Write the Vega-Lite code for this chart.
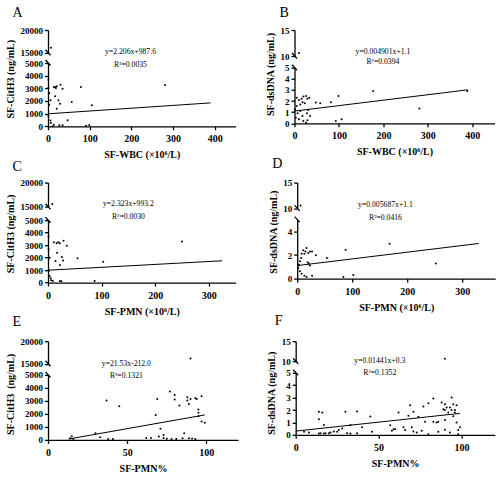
{
  "$schema": "https://vega.github.io/schema/vega-lite/v6.json",
  "padding": {"left": 5, "top": 6, "right": 5, "bottom": 5},
  "background": "white",
  "config": {
    "view": {"stroke": null},
    "axis": {
      "grid": false, "domainColor": "black", "domainWidth": 1.3, "tickColor": "black", "tickWidth": 1.3, "tickSize": 3.5,
      "labelFont": "Liberation Serif", "labelFontWeight": "bold", "labelFontSize": 9, "labelColor": "black", "labelPadding": 2,
      "labelFlush": false, "labelOverlap": false,
      "titleFont": "Liberation Serif", "titleFontWeight": "bold", "titleFontSize": 10, "titleColor": "black", "titlePadding": 9
    },
    "axisX": {"labelFontSize": 10, "labelPadding": 4, "titlePadding": 6},
    "title": {"font": "Liberation Serif", "fontSize": 14, "fontWeight": "normal", "color": "black", "anchor": "start"}
  },
  "datasets": {
    "a": [
      {"x":7,"y":16100},{"x":1,"y":3680},{"x":1,"y":3030},{"x":14,"y":3080},{"x":17,"y":3100},{"x":21,"y":3160},{"x":19,"y":3030},
      {"x":30,"y":3290},{"x":35,"y":2970},{"x":79,"y":3100},{"x":281,"y":3260},{"x":3,"y":2630},{"x":17,"y":2370},{"x":25,"y":2050},
      {"x":29,"y":1790},{"x":57,"y":1920},{"x":105,"y":1660},{"x":21,"y":1390},{"x":3,"y":1710},{"x":6,"y":2050},{"x":7,"y":260},
      {"x":6,"y":450},{"x":14,"y":130},{"x":27,"y":80},{"x":35,"y":80},{"x":47,"y":470},{"x":91,"y":50},{"x":99,"y":100},{"x":1,"y":790},{"x":11,"y":0}
    ],
    "b": [
      {"x":10,"y":10.6},{"x":5,"y":2.3},{"x":10,"y":2.1},{"x":16,"y":2.2},{"x":20,"y":2.4},{"x":26,"y":2.46},{"x":29,"y":2.2},{"x":33,"y":2.3},
      {"x":18,"y":1.9},{"x":13,"y":1.7},{"x":23,"y":1.8},{"x":5,"y":1.56},{"x":48,"y":1.86},{"x":58,"y":1.8},{"x":82,"y":1.9},{"x":99,"y":2.46},
      {"x":177,"y":2.9},{"x":281,"y":1.32},{"x":389,"y":2.9},{"x":7,"y":0.9},{"x":18,"y":0.66},{"x":13,"y":1.1},{"x":31,"y":1.2},{"x":28,"y":0.9},
      {"x":3,"y":0.5},{"x":10,"y":0.36},{"x":20,"y":0.2},{"x":29,"y":0.27},{"x":93,"y":0.2},{"x":106,"y":0.36},{"x":35,"y":0.66},{"x":1,"y":1.26},{"x":26,"y":0.06}
    ],
    "c": [
      {"x":8,"y":15600},{"x":1,"y":3700},{"x":1,"y":2670},{"x":3,"y":2000},{"x":11,"y":3230},{"x":16,"y":3160},{"x":19,"y":3230},{"x":22,"y":3160},
      {"x":29,"y":3360},{"x":35,"y":2960},{"x":17,"y":2400},{"x":26,"y":2050},{"x":28,"y":1780},{"x":14,"y":1730},{"x":22,"y":1410},{"x":55,"y":1950},
      {"x":103,"y":1680},{"x":250,"y":3300},{"x":3,"y":530},{"x":5,"y":350},{"x":6,"y":190},{"x":9,"y":130},{"x":22,"y":130},{"x":25,"y":100},
      {"x":87,"y":130},{"x":2,"y":940}
    ],
    "d": [
      {"x":6,"y":10.55},{"x":17,"y":2.6},{"x":15,"y":2.3},{"x":11,"y":2.4},{"x":8,"y":2.1},{"x":13,"y":2.1},{"x":20,"y":2.17},{"x":23,"y":2.3},
      {"x":27,"y":2.3},{"x":34,"y":1.97},{"x":7,"y":1.75},{"x":5,"y":1.46},{"x":19,"y":1.38},{"x":23,"y":1.1},{"x":21,"y":1.27},{"x":54,"y":1.75},
      {"x":88,"y":2.45},{"x":168,"y":2.96},{"x":252,"y":1.27},{"x":2,"y":0.9},{"x":5,"y":0.62},{"x":8,"y":0.42},{"x":13,"y":0.25},{"x":27,"y":0.25},
      {"x":17,"y":0.14},{"x":84,"y":0.14},{"x":102,"y":0.3},{"x":3,"y":1.18}
    ],
    "e": [
      {"x":90,"y":16200},{"x":37,"y":3030},{"x":45,"y":2590},{"x":69,"y":3150},{"x":68,"y":1920},{"x":77,"y":3720},{"x":80,"y":3460},{"x":80,"y":3100},
      {"x":83,"y":2640},{"x":88,"y":3280},{"x":88,"y":3030},{"x":89,"y":2770},{"x":90,"y":3150},{"x":93,"y":3210},{"x":94,"y":3150},{"x":97,"y":3360},
      {"x":95,"y":2330},{"x":95,"y":2080},{"x":95,"y":1820},{"x":97,"y":1410},{"x":99,"y":1310},{"x":71,"y":850},{"x":73,"y":380},{"x":70,"y":260},
      {"x":73,"y":150},{"x":75,"y":80},{"x":78,"y":60},{"x":81,"y":60},{"x":85,"y":130},{"x":86,"y":510},{"x":89,"y":130},{"x":91,"y":100},
      {"x":93,"y":60},{"x":30,"y":510},{"x":33,"y":200},{"x":62,"y":150},{"x":65,"y":150},{"x":38,"y":60},{"x":41,"y":60},{"x":15,"y":280},
      {"x":14,"y":130},{"x":16,"y":60}
    ],
    "f": [
      {"x":90,"y":10.64},{"x":5,"y":0.24},{"x":8,"y":0.19},{"x":14,"y":1.85},{"x":16,"y":1.8},{"x":14,"y":1.26},{"x":17,"y":0.8},{"x":14,"y":0.1},
      {"x":15,"y":0.12},{"x":17,"y":0.1},{"x":18,"y":0.12},{"x":20,"y":0.12},{"x":21,"y":0.19},{"x":23,"y":0.27},{"x":25,"y":0.24},{"x":26,"y":0.38},
      {"x":28,"y":0.5},{"x":30,"y":1.85},{"x":31,"y":0.12},{"x":33,"y":0.1},{"x":33,"y":0.8},{"x":37,"y":1.88},{"x":37,"y":0.12},{"x":40,"y":0.6},
      {"x":45,"y":1.47},{"x":46,"y":0.24},{"x":57,"y":0.78},{"x":58,"y":0.32},{"x":59,"y":0.45},{"x":60,"y":0.45},{"x":62,"y":1.8},{"x":65,"y":0.6},
      {"x":66,"y":0.38},{"x":68,"y":1.53},{"x":69,"y":2.39},{"x":70,"y":0.6},{"x":71,"y":0.27},{"x":71,"y":1.85},{"x":73,"y":0.19},{"x":74,"y":1.45},
      {"x":76,"y":0.32},{"x":77,"y":2.28},{"x":78,"y":1.05},{"x":80,"y":2.55},{"x":80,"y":0.05},{"x":83,"y":2.92},{"x":83,"y":1.05},{"x":85,"y":1.0},
      {"x":86,"y":1.05},{"x":86,"y":0.24},{"x":88,"y":2.6},{"x":89,"y":2.06},{"x":90,"y":2.47},{"x":90,"y":2.0},{"x":90,"y":1.2},{"x":90,"y":0.4},
      {"x":91,"y":2.2},{"x":92,"y":1.8},{"x":93,"y":0.19},{"x":94,"y":3.0},{"x":94,"y":2.0},{"x":95,"y":1.5},{"x":95,"y":2.47},{"x":96,"y":2.0},
      {"x":97,"y":2.39},{"x":97,"y":1.0},{"x":98,"y":0.38},{"x":98,"y":0.05},{"x":99,"y":0.6},{"x":93,"y":2.2},{"x":96,"y":1.8}
    ],
    "fit_a": [{"x":0,"y":987.6},{"x":390,"y":1847.9}],
    "fit_b": [{"x":0,"y":1.1},{"x":390,"y":3.011}],
    "fit_c": [{"x":0,"y":993.2},{"x":325,"y":1748.2}],
    "fit_d": [{"x":0,"y":1.1},{"x":330,"y":2.977}],
    "fit_e": [{"x":13,"y":67.9},{"x":99,"y":1919.5}],
    "fit_f": [{"x":0,"y":0.3},{"x":99,"y":1.727}]
  },
  "spacing": -3.4,
  "vconcat": [
    {
      "spacing": 28.5,
      "hconcat": [
        {
          "title": {"text": "A", "dx": 7, "offset": 6},
          "bounds": "flush", "spacing": 10,
          "vconcat": [
            {"width": 187.5, "height": 22.7, "layer": [
              {"data": {"name": "a"}, "transform": [{"filter": "datum.y >= 10000"}], "mark": {"type": "circle", "size": 4, "color": "black", "opacity": 1},
               "encoding": {"x": {"field": "x", "type": "quantitative", "scale": {"domain": [0, 450], "nice": false}, "axis": null},
                            "y": {"field": "y", "type": "quantitative", "scale": {"domain": [15000, 20000], "nice": false, "zero": false}, "axis": {"values": [15000, 20000], "tickCount": 20, "format": "d", "title": null, "labelOverlap": false}}}},
              {"data": {"values": [{}]}, "mark": {"type": "point", "shape": "M-0.5,-0.6L0.5,0.5", "size": 100, "filled": false, "color": "black", "strokeWidth": 1.3, "opacity": 1},
               "encoding": {"x": {"datum": 0}, "y": {"datum": 15000}}}
            ]},
            {"width": 187.5, "height": 63.3, "layer": [
              {"data": {"name": "a"}, "transform": [{"filter": "datum.y <= 5000"}], "mark": {"type": "circle", "size": 4, "color": "black", "opacity": 1},
               "encoding": {"x": {"field": "x", "type": "quantitative", "scale": {"domain": [0, 450], "nice": false}, "axis": {"values": [0, 100, 200, 300, 400], "tickCount": 20, "title": "SF-WBC (×10⁶/L)"}},
                            "y": {"field": "y", "type": "quantitative", "scale": {"domain": [0, 5000], "nice": false}, "axis": {"values": [0, 1000, 2000, 3000, 4000, 5000], "tickCount": 20, "format": "d", "title": "SF-CitH3 (ng/mL)", "titleY": 15.8, "labelOverlap": false}}}},
              {"data": {"name": "fit_a"}, "mark": {"type": "line", "color": "black", "strokeWidth": 1},
               "encoding": {"x": {"field": "x", "type": "quantitative"}, "y": {"field": "y", "type": "quantitative"}}},
              {"data": {"values": [{}]}, "mark": {"type": "point", "shape": "M-0.5,-0.6L0.5,0.5", "size": 100, "filled": false, "color": "black", "strokeWidth": 1.3, "opacity": 1},
               "encoding": {"x": {"datum": 0}, "y": {"datum": 5000}}},
              {"data": {"values": [{}]}, "mark": {"type": "text", "text": "y=2.206x+987.6", "font": "Liberation Serif", "fontSize": 7.7, "color": "black", "baseline": "middle"},
               "encoding": {"x": {"datum": 198}, "y": {"datum": 5845}}},
              {"data": {"values": [{}]}, "mark": {"type": "text", "text": "R²=0.0035", "font": "Liberation Serif", "fontSize": 7.7, "color": "black", "baseline": "middle"},
               "encoding": {"x": {"datum": 198}, "y": {"datum": 4874}}}
            ]}
          ]
        },
        {
          "title": {"text": "B", "dx": 14, "offset": 6},
          "bounds": "flush", "spacing": 11.7,
          "vconcat": [
            {"width": 200, "height": 26, "layer": [
              {"data": {"name": "b"}, "transform": [{"filter": "datum.y >= 8"}], "mark": {"type": "circle", "size": 4, "color": "black", "opacity": 1},
               "encoding": {"x": {"field": "x", "type": "quantitative", "scale": {"domain": [0, 450], "nice": false}, "axis": null},
                            "y": {"field": "y", "type": "quantitative", "scale": {"domain": [10, 15], "nice": false, "zero": false}, "axis": {"values": [10, 15], "tickCount": 20, "format": "d", "title": null, "labelOverlap": false}}}},
              {"data": {"values": [{}]}, "mark": {"type": "point", "shape": "M-0.5,-0.6L0.5,0.5", "size": 100, "filled": false, "color": "black", "strokeWidth": 1.3, "opacity": 1},
               "encoding": {"x": {"datum": 0}, "y": {"datum": 10}}}
            ]},
            {"width": 200, "height": 55.6, "layer": [
              {"data": {"name": "b"}, "transform": [{"filter": "datum.y <= 5"}], "mark": {"type": "circle", "size": 4, "color": "black", "opacity": 1},
               "encoding": {"x": {"field": "x", "type": "quantitative", "scale": {"domain": [0, 450], "nice": false}, "axis": {"values": [0, 100, 200, 300, 400], "tickCount": 20, "title": "SF-WBC (×10⁶/L)"}},
                            "y": {"field": "y", "type": "quantitative", "scale": {"domain": [0, 5], "nice": false}, "axis": {"values": [0, 1, 2, 3, 4, 5], "tickCount": 20, "format": "d", "title": "SF-dsDNA (ng/mL)", "titleY": 6.3, "labelOverlap": false}}}},
              {"data": {"name": "fit_b"}, "mark": {"type": "line", "color": "black", "strokeWidth": 1},
               "encoding": {"x": {"field": "x", "type": "quantitative"}, "y": {"field": "y", "type": "quantitative"}}},
              {"data": {"values": [{}]}, "mark": {"type": "point", "shape": "M-0.5,-0.6L0.5,0.5", "size": 100, "filled": false, "color": "black", "strokeWidth": 1.3, "opacity": 1},
               "encoding": {"x": {"datum": 0}, "y": {"datum": 5}}},
              {"data": {"values": [{}]}, "mark": {"type": "text", "text": "y=0.004901x+1.1", "font": "Liberation Serif", "fontSize": 7.7, "color": "black", "baseline": "middle"},
               "encoding": {"x": {"datum": 199}, "y": {"datum": 6.44}}},
              {"data": {"values": [{}]}, "mark": {"type": "text", "text": "R²=0.0394", "font": "Liberation Serif", "fontSize": 7.7, "color": "black", "baseline": "middle"},
               "encoding": {"x": {"datum": 199}, "y": {"datum": 5.51}}}
            ]}
          ]
        }
      ]
    },
    {
      "spacing": 31.2,
      "hconcat": [
        {
          "title": {"text": "C", "dx": 7, "offset": 4.9},
          "bounds": "flush", "spacing": 12.6,
          "vconcat": [
            {"width": 187.6, "height": 24.2, "layer": [
              {"data": {"name": "c"}, "transform": [{"filter": "datum.y >= 10000"}], "mark": {"type": "circle", "size": 4, "color": "black", "opacity": 1},
               "encoding": {"x": {"field": "x", "type": "quantitative", "scale": {"domain": [0, 350], "nice": false}, "axis": null},
                            "y": {"field": "y", "type": "quantitative", "scale": {"domain": [15000, 20000], "nice": false, "zero": false}, "axis": {"values": [15000, 20000], "tickCount": 20, "format": "d", "title": null, "labelOverlap": false}}}},
              {"data": {"values": [{}]}, "mark": {"type": "point", "shape": "M-0.5,-0.6L0.5,0.5", "size": 100, "filled": false, "color": "black", "strokeWidth": 1.3, "opacity": 1},
               "encoding": {"x": {"datum": 0}, "y": {"datum": 15000}}}
            ]},
            {"width": 187.6, "height": 62.4, "layer": [
              {"data": {"name": "c"}, "transform": [{"filter": "datum.y <= 5000"}], "mark": {"type": "circle", "size": 4, "color": "black", "opacity": 1},
               "encoding": {"x": {"field": "x", "type": "quantitative", "scale": {"domain": [0, 350], "nice": false}, "axis": {"values": [0, 100, 200, 300], "tickCount": 20, "title": "SF-PMN (×10⁶/L)"}},
                            "y": {"field": "y", "type": "quantitative", "scale": {"domain": [0, 5000], "nice": false}, "axis": {"values": [0, 1000, 2000, 3000, 4000, 5000], "tickCount": 20, "format": "d", "title": "SF-CitH3 (ng/mL)", "titleY": 13.2, "labelOverlap": false}}}},
              {"data": {"name": "fit_c"}, "mark": {"type": "line", "color": "black", "strokeWidth": 1},
               "encoding": {"x": {"field": "x", "type": "quantitative"}, "y": {"field": "y", "type": "quantitative"}}},
              {"data": {"values": [{}]}, "mark": {"type": "point", "shape": "M-0.5,-0.6L0.5,0.5", "size": 100, "filled": false, "color": "black", "strokeWidth": 1.3, "opacity": 1},
               "encoding": {"x": {"datum": 0}, "y": {"datum": 5000}}},
              {"data": {"values": [{}]}, "mark": {"type": "text", "text": "y=2.323x+993.2", "font": "Liberation Serif", "fontSize": 7.7, "color": "black", "baseline": "middle"},
               "encoding": {"x": {"datum": 150}, "y": {"datum": 6266}}},
              {"data": {"values": [{}]}, "mark": {"type": "text", "text": "R²=0.0030", "font": "Liberation Serif", "fontSize": 7.7, "color": "black", "baseline": "middle"},
               "encoding": {"x": {"datum": 150}, "y": {"datum": 5224}}}
            ]}
          ]
        },
        {
          "title": {"text": "D", "dx": 4, "offset": 7.9},
          "bounds": "flush", "spacing": 11,
          "vconcat": [
            {"width": 198, "height": 25.8, "layer": [
              {"data": {"name": "d"}, "transform": [{"filter": "datum.y >= 8"}], "mark": {"type": "circle", "size": 4, "color": "black", "opacity": 1},
               "encoding": {"x": {"field": "x", "type": "quantitative", "scale": {"domain": [0, 360], "nice": false}, "axis": null},
                            "y": {"field": "y", "type": "quantitative", "scale": {"domain": [10, 15], "nice": false, "zero": false}, "axis": {"values": [10, 15], "tickCount": 20, "format": "d", "title": null, "labelOverlap": false}}}},
              {"data": {"values": [{}]}, "mark": {"type": "point", "shape": "M-0.5,-0.6L0.5,0.5", "size": 100, "filled": false, "color": "black", "strokeWidth": 1.3, "opacity": 1},
               "encoding": {"x": {"datum": 0}, "y": {"datum": 10}}}
            ]},
            {"width": 198, "height": 59, "layer": [
              {"data": {"name": "d"}, "transform": [{"filter": "datum.y <= 5"}], "mark": {"type": "circle", "size": 4, "color": "black", "opacity": 1},
               "encoding": {"x": {"field": "x", "type": "quantitative", "scale": {"domain": [0, 360], "nice": false}, "axis": {"values": [0, 100, 200, 300], "tickCount": 20, "title": "SF-PMN (×10⁶/L)"}},
                            "y": {"field": "y", "type": "quantitative", "scale": {"domain": [0, 5], "nice": false}, "axis": {"values": [0, 2, 4], "tickCount": 20, "format": "d", "title": "SF-dsDNA (ng/mL)", "titleY": 12, "labelOverlap": false}}}},
              {"data": {"name": "fit_d"}, "mark": {"type": "line", "color": "black", "strokeWidth": 1},
               "encoding": {"x": {"field": "x", "type": "quantitative"}, "y": {"field": "y", "type": "quantitative"}}},
              {"data": {"values": [{}]}, "mark": {"type": "point", "shape": "M-0.5,-0.6L0.5,0.5", "size": 100, "filled": false, "color": "black", "strokeWidth": 1.3, "opacity": 1},
               "encoding": {"x": {"datum": 0}, "y": {"datum": 5}}},
              {"data": {"values": [{}]}, "mark": {"type": "text", "text": "y=0.005687x+1.1", "font": "Liberation Serif", "fontSize": 7.7, "color": "black", "baseline": "middle"},
               "encoding": {"x": {"datum": 160.5}, "y": {"datum": 6.21}}},
              {"data": {"values": [{}]}, "mark": {"type": "text", "text": "R²=0.0416", "font": "Liberation Serif", "fontSize": 7.7, "color": "black", "baseline": "middle"},
               "encoding": {"x": {"datum": 160.5}, "y": {"datum": 5.17}}}
            ]}
          ]
        }
      ]
    },
    {
      "spacing": 28.7,
      "hconcat": [
        {
          "title": {"text": "E", "dx": 7, "offset": 8.4},
          "bounds": "flush", "spacing": 10.7,
          "vconcat": [
            {"width": 190, "height": 22.6, "layer": [
              {"data": {"name": "e"}, "transform": [{"filter": "datum.y >= 10000"}], "mark": {"type": "circle", "size": 4, "color": "black", "opacity": 1},
               "encoding": {"x": {"field": "x", "type": "quantitative", "scale": {"domain": [0, 120], "nice": false}, "axis": null},
                            "y": {"field": "y", "type": "quantitative", "scale": {"domain": [15000, 20000], "nice": false, "zero": false}, "axis": {"values": [15000, 20000], "tickCount": 20, "format": "d", "title": null, "labelOverlap": false}}}},
              {"data": {"values": [{}]}, "mark": {"type": "point", "shape": "M-0.5,-0.6L0.5,0.5", "size": 100, "filled": false, "color": "black", "strokeWidth": 1.3, "opacity": 1},
               "encoding": {"x": {"datum": 0}, "y": {"datum": 15000}}}
            ]},
            {"width": 190, "height": 65, "layer": [
              {"data": {"name": "e"}, "transform": [{"filter": "datum.y <= 5000"}], "mark": {"type": "circle", "size": 4, "color": "black", "opacity": 1},
               "encoding": {"x": {"field": "x", "type": "quantitative", "scale": {"domain": [0, 120], "nice": false}, "axis": {"values": [0, 50, 100], "tickCount": 20, "title": "SF-PMN%"}},
                            "y": {"field": "y", "type": "quantitative", "scale": {"domain": [0, 5000], "nice": false}, "axis": {"values": [0, 1000, 2000, 3000, 4000, 5000], "tickCount": 20, "format": "d", "title": "SF-CitH3\u00a0 (ng/mL)", "titleY": 19, "labelOverlap": false}}}},
              {"data": {"name": "fit_e"}, "mark": {"type": "line", "color": "black", "strokeWidth": 1},
               "encoding": {"x": {"field": "x", "type": "quantitative"}, "y": {"field": "y", "type": "quantitative"}}},
              {"data": {"values": [{}]}, "mark": {"type": "point", "shape": "M-0.5,-0.6L0.5,0.5", "size": 100, "filled": false, "color": "black", "strokeWidth": 1.3, "opacity": 1},
               "encoding": {"x": {"datum": 0}, "y": {"datum": 5000}}},
              {"data": {"values": [{}]}, "mark": {"type": "text", "text": "y=21.53x-212.0", "font": "Liberation Serif", "fontSize": 7.7, "color": "black", "baseline": "middle"},
               "encoding": {"x": {"datum": 49.5}, "y": {"datum": 5823}}},
              {"data": {"values": [{}]}, "mark": {"type": "text", "text": "R²=0.1321", "font": "Liberation Serif", "fontSize": 7.7, "color": "black", "baseline": "middle"},
               "encoding": {"x": {"datum": 49.5}, "y": {"datum": 4923}}}
            ]}
          ]
        },
        {
          "title": {"text": "F", "dx": 8, "offset": 9.4},
          "bounds": "flush", "spacing": 11.6,
          "vconcat": [
            {"width": 199, "height": 20, "layer": [
              {"data": {"name": "f"}, "transform": [{"filter": "datum.y >= 8"}], "mark": {"type": "circle", "size": 4, "color": "black", "opacity": 1},
               "encoding": {"x": {"field": "x", "type": "quantitative", "scale": {"domain": [0, 120], "nice": false}, "axis": null},
                            "y": {"field": "y", "type": "quantitative", "scale": {"domain": [10, 15], "nice": false, "zero": false}, "axis": {"values": [10, 15], "tickCount": 20, "format": "d", "title": null, "labelOverlap": false}}}},
              {"data": {"values": [{}]}, "mark": {"type": "point", "shape": "M-0.5,-0.6L0.5,0.5", "size": 100, "filled": false, "color": "black", "strokeWidth": 1.3, "opacity": 1},
               "encoding": {"x": {"datum": 0}, "y": {"datum": 10}}}
            ]},
            {"width": 199, "height": 62, "layer": [
              {"data": {"name": "f"}, "transform": [{"filter": "datum.y <= 5"}], "mark": {"type": "circle", "size": 4, "color": "black", "opacity": 1},
               "encoding": {"x": {"field": "x", "type": "quantitative", "scale": {"domain": [0, 120], "nice": false}, "axis": {"values": [0, 50, 100], "tickCount": 20, "title": "SF-PMN%"}},
                            "y": {"field": "y", "type": "quantitative", "scale": {"domain": [0, 5], "nice": false}, "axis": {"values": [0, 1, 2, 3, 4, 5], "tickCount": 20, "format": "d", "title": "SF-dsDNA (ng/mL)", "titleY": 20, "labelOverlap": false}}}},
              {"data": {"name": "fit_f"}, "mark": {"type": "line", "color": "black", "strokeWidth": 1},
               "encoding": {"x": {"field": "x", "type": "quantitative"}, "y": {"field": "y", "type": "quantitative"}}},
              {"data": {"values": [{}]}, "mark": {"type": "point", "shape": "M-0.5,-0.6L0.5,0.5", "size": 100, "filled": false, "color": "black", "strokeWidth": 1.3, "opacity": 1},
               "encoding": {"x": {"datum": 0}, "y": {"datum": 5}}},
              {"data": {"values": [{}]}, "mark": {"type": "text", "text": "y=0.01441x+0.3", "font": "Liberation Serif", "fontSize": 7.7, "color": "black", "baseline": "middle"},
               "encoding": {"x": {"datum": 50.7}, "y": {"datum": 5.94}}},
              {"data": {"values": [{}]}, "mark": {"type": "text", "text": "R²=0.1352", "font": "Liberation Serif", "fontSize": 7.7, "color": "black", "baseline": "middle"},
               "encoding": {"x": {"datum": 50.7}, "y": {"datum": 4.97}}}
            ]}
          ]
        }
      ]
    }
  ]
}
